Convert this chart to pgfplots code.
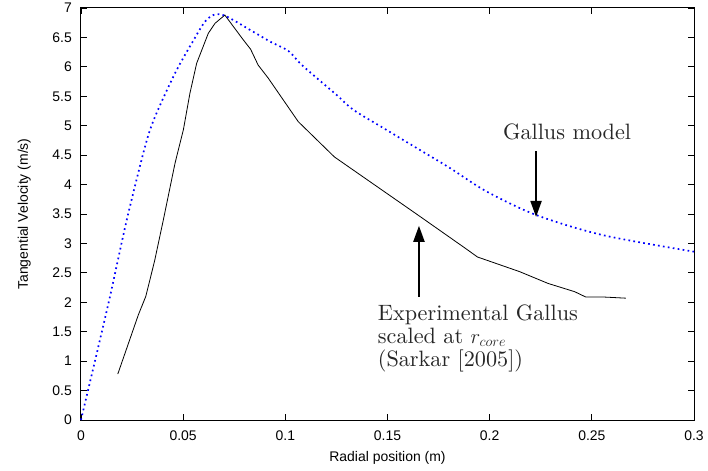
\documentclass[border=0pt]{standalone}
\usepackage{fontspec}
\newfontfamily\arial{Liberation Sans}
\newfontfamily\lmten{lmroman10-regular.otf}
\usepackage{pgfplots}
\pgfplotsset{compat=1.18}
\usetikzlibrary{arrows.meta}
\definecolor{gblue}{RGB}{0,0,255}
\begin{document}
\begin{tikzpicture}
\useasboundingbox (-81bp,-51bp) rectangle (627bp,420bp);
\begin{axis}[
  at={(0,0)}, anchor=south west,
  scale only axis, width=613bp, height=412bp,
  xmin=0, xmax=0.3, ymin=0, ymax=7,
  xtick={0,0.05,0.1,0.15,0.2,0.25,0.3},
  xticklabels={0,0.05,0.1,0.15,0.2,0.25,0.3},
  ytick={0,0.5,1,1.5,2,2.5,3,3.5,4,4.5,5,5.5,6,6.5,7},
  yticklabels={0,0.5,1,1.5,2,2.5,3,3.5,4,4.5,5,5.5,6,6.5,7},
  tick align=inside, xtick pos=both, ytick pos=both,
  major tick length=6.5bp,
  tick style={black, line width=0.8bp},
  axis line style={black, line width=1bp},
  ticklabel style={font=\arial\fontsize{14}{16}\selectfont, inner sep=0pt},
  yticklabel style={anchor=east, xshift=-9bp},
  xticklabel style={anchor=north, yshift=-11bp},
  xlabel={Radial position (m)},
  ylabel={Tangential Velocity (m/s)},
  label style={font=\arial\fontsize{14}{16}\selectfont, inner sep=0pt},
  xlabel style={at={(axis description cs:0.5,-0.1012)}, anchor=base},
  ylabel style={at={(axis description cs:-0.0865,0.5)}, anchor=base},
  clip=false,
]
% Experimental Gallus (Sarkar 2005)
\addplot[black, line width=0.8bp] coordinates {
  (0.018,0.78) (0.028,1.78) (0.0317,2.10) (0.036,2.70) (0.0403,3.40)
  (0.046,4.36) (0.0501,4.93) (0.0533,5.55) (0.0566,6.06) (0.0623,6.57)
  (0.0656,6.74) (0.0704,6.88) (0.0794,6.46) (0.083,6.30) (0.0867,6.03)
  (0.0916,5.81) (0.1063,5.07) (0.124,4.47) (0.165,3.48) (0.1888,2.90)
  (0.194,2.77) (0.2147,2.52) (0.2286,2.32) (0.2416,2.18) (0.247,2.09)
  (0.2555,2.09) (0.2666,2.07)
};
% Gallus model
\addplot[gblue, line width=1.7bp, dash pattern=on 1.7bp off 3.3bp, smooth] coordinates {
  (0,0) (0.0077,1.13) (0.0142,2.10) (0.0224,3.40) (0.0313,4.64)
  (0.0362,5.15) (0.046,5.89) (0.0542,6.40) (0.0615,6.80) (0.0688,6.89)
  (0.0836,6.61) (0.0925,6.43) (0.1015,6.27) (0.1072,6.06) (0.1154,5.81)
  (0.1252,5.52) (0.1333,5.27) (0.148,4.96) (0.1643,4.62) (0.1806,4.28)
  (0.1986,3.88) (0.223,3.48) (0.2555,3.14) (0.3,2.86)
};
\node[anchor=base, text=black!85, font=\lmten\fontsize{22.3}{23.3}\selectfont, inner sep=0pt]
  at (axis cs:0.2379,4.77) {Gallus model};
\draw[black, line width=2bp, -{Triangle[length=16bp, width=11bp]}]
  (axis cs:0.2227,4.57) -- (axis cs:0.2227,3.45);
\node[anchor=base west, align=left, text=black!85, font=\lmten\fontsize{22.3}{23.3}\selectfont, inner sep=0pt]
  at (axis cs:0.1452,0.905) {Experimental Gallus\\scaled at $r_{core}$\\(Sarkar [2005])};
\draw[black, line width=2bp, -{Triangle[length=16bp, width=11bp]}]
  (axis cs:0.1654,2.09) -- (axis cs:0.1654,3.30);
\end{axis}
\end{tikzpicture}
\end{document}
